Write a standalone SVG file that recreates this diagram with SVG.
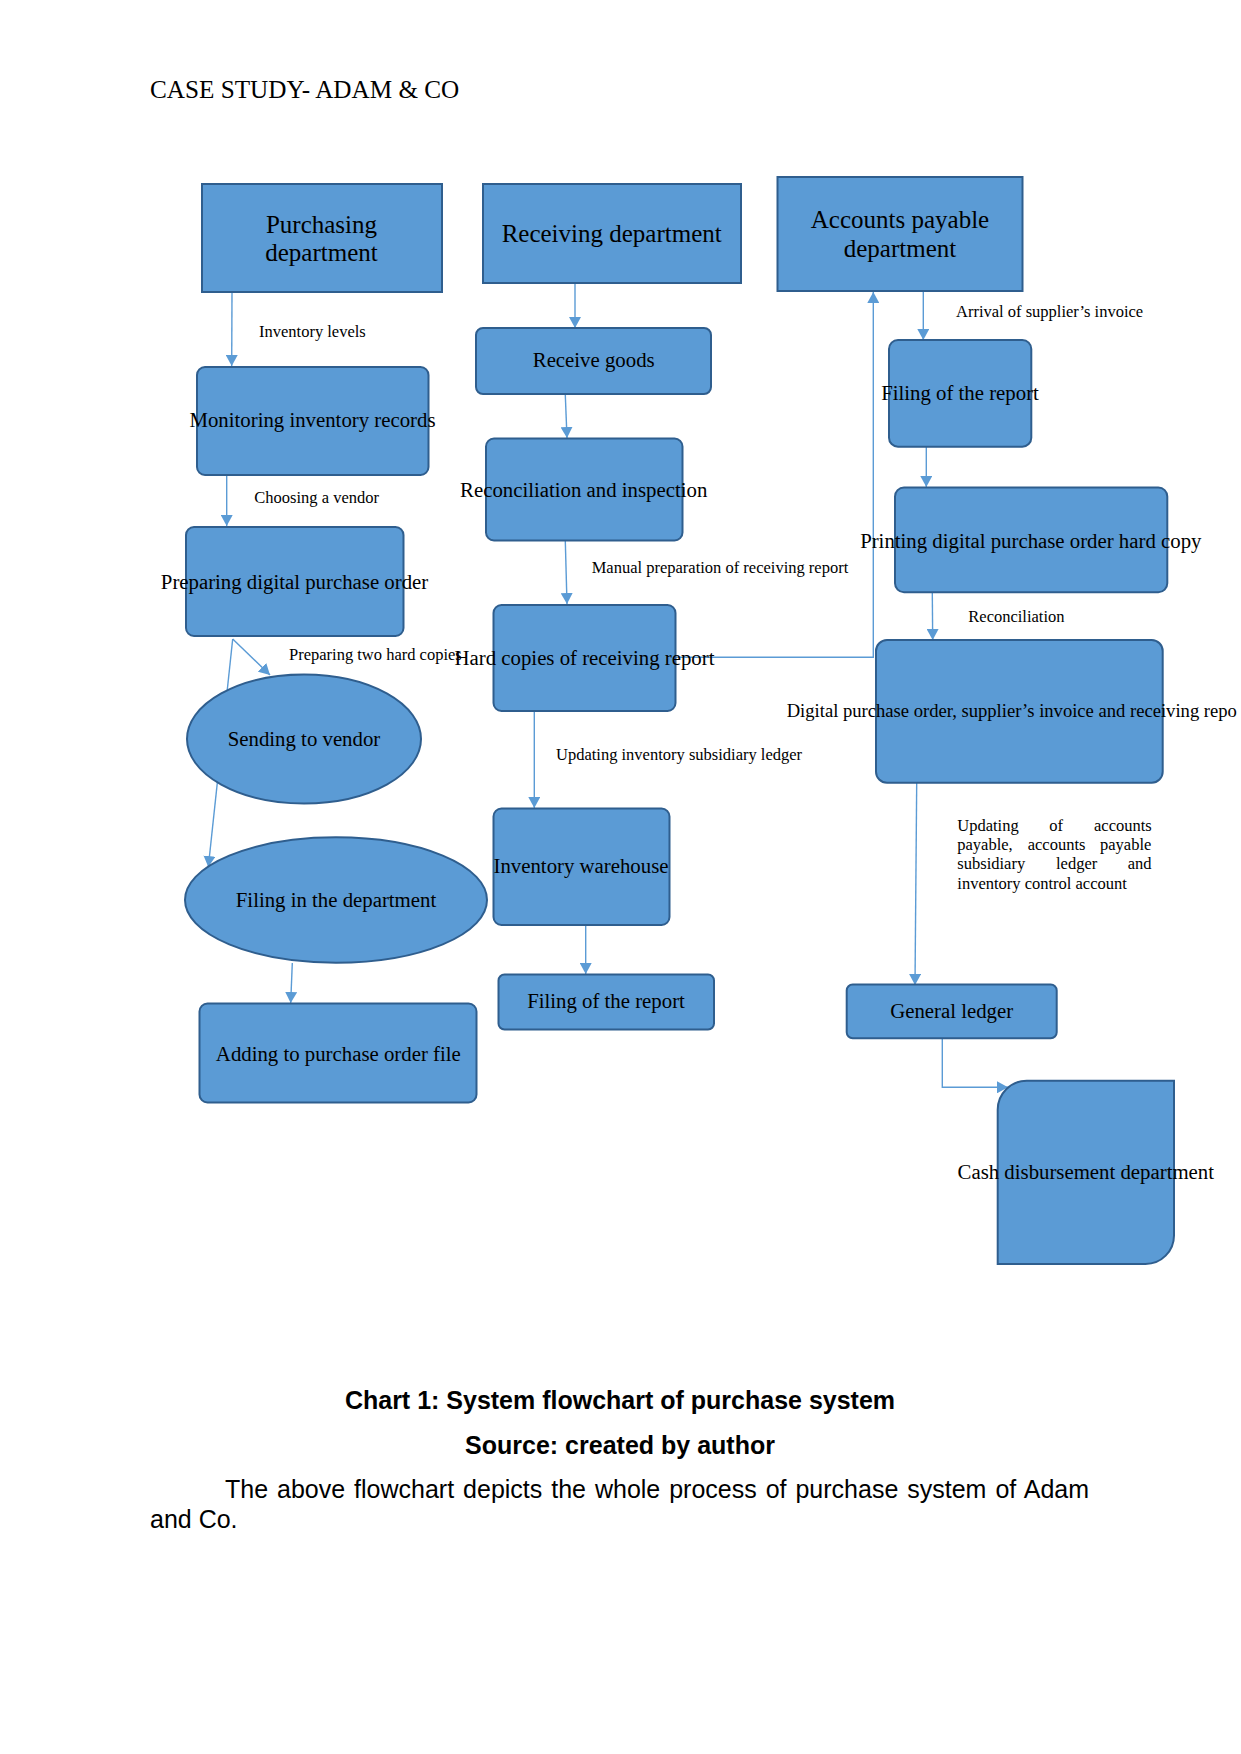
<svg xmlns="http://www.w3.org/2000/svg" width="1241" height="1754" viewBox="0 0 1241 1754">
<style>
.box{fill:#5B9BD5;stroke:#2F5E8E;stroke-width:2}
.t{font-family:"Liberation Serif","Times New Roman",serif;fill:#000;text-anchor:middle}
.h{font-size:25px}
.n{font-size:20.8px}
.l{font-family:"Liberation Serif","Times New Roman",serif;font-size:16.5px;fill:#000}
.c{fill:none;stroke:#5B9BD5;stroke-width:1.4;marker-end:url(#ah)}
.p{font-family:"Liberation Sans",Arial,sans-serif;font-size:25px;fill:#000}
.b{font-weight:bold;text-anchor:middle}
</style>
<defs>
<marker id="ah" viewBox="0 0 11 12" refX="11" refY="6" markerWidth="11" markerHeight="12" markerUnits="userSpaceOnUse" orient="auto"><path d="M0,0 L11,6 L0,12 z" fill="#5B9BD5"/></marker>
</defs>
<rect width="1241" height="1754" fill="#fff"/>
<text x="150" y="98" font-family="Liberation Serif, Times New Roman, serif" font-size="25.2">CASE STUDY- ADAM &amp; CO</text>

<g id="connectors">
<path class="c" d="M232,292 L231.7,366"/>
<path class="c" d="M226.7,475 L226.7,526"/>
<path class="c" d="M232.7,639 L270,675"/>
<path class="c" d="M232.7,639 L208.3,867"/>
<path class="c" d="M292.3,963 L290.7,1003"/>
<path class="c" d="M575,284 L575,328"/>
<path class="c" d="M565.3,395 L567,438"/>
<path class="c" d="M565.3,541 L567,604"/>
<path class="c" d="M534.3,711 L534.3,808"/>
<path class="c" d="M585.7,925 L585.7,974"/>
<path class="c" d="M675.7,657.3 L873.3,657.3 L873.3,292"/>
<path class="c" d="M923.3,292 L923.3,340"/>
<path class="c" d="M926.3,447 L926.3,487"/>
<path class="c" d="M932.3,593 L932.7,640"/>
<path class="c" d="M916.7,783 L915,985"/>
<path class="c" d="M942.3,1038.3 L942.3,1087.3 L1008,1087.3"/>
</g>

<g id="purchasing-dept">
<rect class="box" x="202" y="184" width="240" height="108"/>
<text class="t h" x="321.5" y="232.7">Purchasing</text>
<text class="t h" x="321.5" y="261">department</text>
</g>
<g id="receiving-dept">
<rect class="box" x="483" y="184" width="258" height="99"/>
<text class="t h" x="611.7" y="241.7">Receiving department</text>
</g>
<g id="ap-dept">
<rect class="box" x="777.5" y="177" width="245" height="114"/>
<text class="t h" x="900" y="228">Accounts payable</text>
<text class="t h" x="900" y="256.7">department</text>
</g>

<g id="monitoring">
<rect class="box" x="197" y="367" width="231.5" height="108" rx="8"/>
<text class="t n" x="312.5" y="427.3">Monitoring inventory records</text>
</g>
<g id="preparing-po">
<rect class="box" x="186" y="527" width="217.5" height="109" rx="8"/>
<text class="t n" x="294.5" y="589.3">Preparing digital purchase order</text>
</g>
<g id="sending-vendor">
<ellipse class="box" cx="304" cy="739" rx="117" ry="64.5"/>
<text class="t n" x="304" y="746">Sending to vendor</text>
</g>
<g id="filing-dept">
<ellipse class="box" cx="336" cy="900" rx="151" ry="62.7"/>
<text class="t n" x="336" y="906.7">Filing in the department</text>
</g>
<g id="adding-po-file">
<rect class="box" x="199.5" y="1003.5" width="277" height="99" rx="8"/>
<text class="t n" x="338.3" y="1060.7">Adding to purchase order file</text>
</g>

<g id="receive-goods">
<rect class="box" x="476" y="328" width="235" height="66" rx="7"/>
<text class="t n" x="593.7" y="367.3">Receive goods</text>
</g>
<g id="reconciliation-inspection">
<rect class="box" x="486" y="438.5" width="196.5" height="102" rx="8"/>
<text class="t n" x="583.7" y="496.7">Reconciliation and inspection</text>
</g>
<g id="hard-copies">
<rect class="box" x="493.5" y="605" width="182" height="106" rx="8"/>
<text class="t n" x="584.5" y="665">Hard copies of receiving report</text>
</g>
<g id="inventory-warehouse">
<rect class="box" x="493.5" y="808.5" width="176" height="116.5" rx="8"/>
<text class="t n" x="581" y="873.3">Inventory warehouse</text>
</g>
<g id="filing-report-mid">
<rect class="box" x="498.5" y="974.5" width="215.5" height="55" rx="6"/>
<text class="t n" x="606" y="1008.3">Filing of the report</text>
</g>

<g id="filing-report-right">
<rect class="box" x="889" y="340" width="142.3" height="106.7" rx="9"/>
<text class="t n" x="960" y="400">Filing of the report</text>
</g>
<g id="printing-po">
<rect class="box" x="895" y="487.5" width="272.3" height="104.8" rx="9"/>
<text class="t n" x="1030.8" y="547.7">Printing digital purchase order hard copy</text>
</g>
<g id="digital-po">
<rect class="box" x="876" y="640" width="286.7" height="142.7" rx="11"/>
<text class="t" x="786.7" y="717.3" style="text-anchor:start;font-size:18.6px">Digital purchase order, supplier’s invoice and receiving repo</text>
</g>
<g id="general-ledger">
<rect class="box" x="846.7" y="984.5" width="210" height="53.8" rx="6"/>
<text class="t n" x="951.7" y="1018.3">General ledger</text>
</g>
<g id="cash-disbursement">
<path class="box" d="M997.7,1264 L997.7,1109.7 A29,29 0 0 1 1026.7,1080.7 L1174,1080.7 L1174,1235.5 A28.5,28.5 0 0 1 1145.5,1264 Z"/>
<text class="t n" x="1085.8" y="1179">Cash disbursement department</text>
</g>

<g id="labels">
<text class="l" x="259" y="336.7">Inventory levels</text>
<text class="l" x="254.3" y="503.3">Choosing a vendor</text>
<text class="l" x="289" y="660">Preparing two hard copies</text>
<text class="l" x="591.7" y="572.7">Manual preparation of receiving report</text>
<text class="l" x="556" y="760">Updating inventory subsidiary ledger</text>
<text class="l" x="956" y="316.7">Arrival of supplier’s invoice</text>
<text class="l" x="968.3" y="621.7">Reconciliation</text>
<text class="l"><tspan x="957.3" y="830.7">Updating</tspan><tspan x="1049.3" y="830.7">of</tspan><tspan x="1094" y="830.7">accounts</tspan><tspan x="957.3" y="850">payable,</tspan><tspan x="1027.7" y="850">accounts</tspan><tspan x="1100" y="850">payable</tspan><tspan x="957.3" y="869.3">subsidiary</tspan><tspan x="1056" y="869.3">ledger</tspan><tspan x="1127.7" y="869.3">and</tspan><tspan x="957.3" y="888.7">inventory control account</tspan></text>
</g>

<text class="p b" x="620" y="1409">Chart 1: System flowchart of purchase system</text>
<text class="p b" x="620" y="1454">Source: created by author</text>
<text class="p" x="225" y="1498" word-spacing="2">The above flowchart depicts the whole process of purchase system of Adam</text>
<text class="p" x="150" y="1527.5">and Co.</text>
</svg>
